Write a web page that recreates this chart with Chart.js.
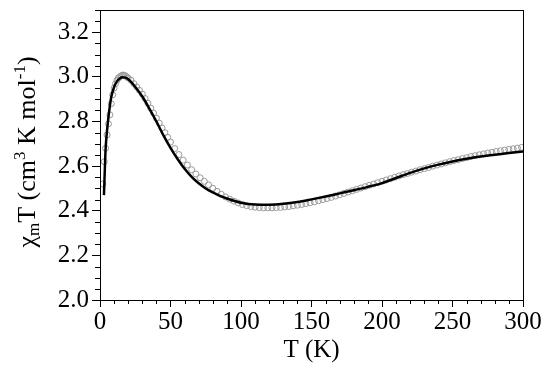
<!DOCTYPE html>
<html>
<head>
<meta charset="utf-8">
<script src="https://cdn.jsdelivr.net/npm/chart.js@4"></script>
<style>
  html, body { margin: 0; padding: 0; background: #fff; }
  #wrap { width: 550px; height: 369px; }
</style>
</head>
<body>
<div id="wrap"><canvas id="chiChart"></canvas></div>
<script>
// measured data (open circles)
const tempData = [2, 3, 4, 5, 6, 7, 8, 9, 10, 11, 12, 13, 14, 15, 16, 17, 18, 19, 20, 22, 24, 26, 28, 30, 32, 34, 36, 38, 40, 42, 44, 46, 48, 50,
    53, 56, 59, 62, 65, 68, 71, 74, 77, 80, 83, 86, 89, 92, 95, 98, 101, 104, 107, 110, 113, 116, 119, 122, 125, 128, 131, 134, 137, 140,
    143, 146, 149, 152, 155, 158, 161, 164, 167, 170, 173, 176, 179, 182, 185, 188, 191, 194, 197, 200, 203, 206, 209, 212, 215, 218,
    221, 224, 227, 230, 233, 236, 239, 242, 245, 248, 251, 254, 257, 260, 263, 266, 269, 272, 275, 278, 281, 284, 287, 290, 293, 296, 299];
const chiTData = [2.52, 2.62, 2.68, 2.74, 2.79, 2.83, 2.88, 2.92, 2.95, 2.97, 2.985, 2.995, 3.0, 3.005, 3.008, 3.008, 3.005, 3.0, 2.995,
    2.985, 2.97, 2.955, 2.94, 2.923, 2.903, 2.882, 2.86, 2.838, 2.815, 2.793, 2.771, 2.75, 2.729, 2.708,
    2.679, 2.652, 2.627, 2.605, 2.584, 2.565, 2.548, 2.532, 2.516, 2.501, 2.487, 2.474, 2.462, 2.452, 2.443, 2.435, 2.428, 2.423, 2.419,
    2.416, 2.414, 2.413, 2.413, 2.413, 2.414, 2.415, 2.417, 2.419, 2.422, 2.425, 2.428, 2.432, 2.436, 2.44, 2.445, 2.45, 2.455, 2.46,
    2.466, 2.472, 2.478, 2.484, 2.49, 2.496, 2.502, 2.508, 2.514, 2.52, 2.526, 2.532, 2.538, 2.544, 2.55, 2.556, 2.562, 2.567, 2.573,
    2.578, 2.584, 2.589, 2.594, 2.6, 2.605, 2.61, 2.615, 2.62, 2.625, 2.629, 2.634, 2.638, 2.643, 2.647, 2.651, 2.655, 2.659, 2.662,
    2.666, 2.669, 2.672, 2.675, 2.678, 2.681, 2.684];

// fitted curve (solid line)
const tempFit = [2.8, 3.5, 4, 5, 6, 7, 8, 10, 12, 14, 16, 18, 20, 22, 25, 30, 35, 40, 45, 50, 55, 60, 65, 70, 75, 80, 85, 90, 100,
    110, 120, 130, 140, 150, 160, 170, 180, 190, 200, 210, 220, 230, 240, 250, 260, 270, 280, 290, 300];
const chiTFit = [2.47, 2.6, 2.68, 2.76, 2.82, 2.87, 2.91, 2.955, 2.98, 2.993, 2.998, 2.997, 2.99, 2.978, 2.955, 2.912, 2.858, 2.8,
    2.738, 2.682, 2.632, 2.588, 2.552, 2.523, 2.5, 2.482, 2.467, 2.455, 2.436, 2.428, 2.427, 2.431, 2.439, 2.451, 2.464, 2.478, 2.492,
    2.507, 2.524, 2.547, 2.57, 2.59, 2.607, 2.621, 2.633, 2.643, 2.651, 2.659, 2.666];

const xTicks = [0, 50, 100, 150, 200, 250, 300];
const yTicks = [2.0, 2.2, 2.4, 2.6, 2.8, 3.0, 3.2];

const serif = '"Liberation Serif", "Times New Roman", serif';

// frame, minor ticks and the y title with sub/superscripts
const decor = {
    id: 'decor',
    afterDraw(chart) {
        const c = chart.ctx;
        const a = chart.chartArea;
        const xs = chart.scales.x, ys = chart.scales.y;
        c.save();
        c.strokeStyle = '#000';
        c.lineWidth = 1;
        c.strokeRect(a.left + 0.5, a.top + 0.5, a.right - a.left, a.bottom - a.top);

        c.beginPath();
        for (let t = 10; t < 300; t += 10) {
            if (t % 50 === 0) continue;
            const px = Math.round(xs.getPixelForValue(t)) + 0.5;
            c.moveTo(px, a.bottom);
            c.lineTo(px, a.bottom + 4);
        }
        for (let k = 1; k <= 26; k++) {
            if (k % 4 === 0) continue;
            const py = Math.round(ys.getPixelForValue(2 + k * 0.05)) + 0.5;
            c.moveTo(a.left, py);
            c.lineTo(a.left - 5, py);
        }
        c.stroke();

        // y axis title
        const parts = [
            ['\u03c7', 0], ['m', 1], ['T (cm', 0], ['3', 2], [' K mol', 0], ['-1', 2], [')', 0]
        ];
        const big = '26px ' + serif, small = '17px ' + serif;
        let total = 0;
        parts.forEach(p => { c.font = p[1] ? small : big; total += c.measureText(p[0]).width; });
        c.translate(28, (a.top + a.bottom) / 2 - 3);
        c.rotate(-Math.PI / 2);
        c.fillStyle = '#000';
        c.textBaseline = 'middle';
        let x = -total / 2;
        parts.forEach(p => {
            c.font = p[1] ? small : big;
            const dy = p[1] === 1 ? 7 : (p[1] === 2 ? -7 : 0);
            c.fillText(p[0], x, dy);
            x += c.measureText(p[0]).width;
        });
        c.restore();
    }
};

const ctx = document.getElementById('chiChart').getContext('2d');
new Chart(ctx, {
    type: 'scatter',
    data: {
        datasets: [{
            label: 'fit',
            data: tempFit.map((t, i) => ({ x: t, y: chiTFit[i] })),
            showLine: true,
            borderColor: '#000',
            borderWidth: 2.5,
            pointRadius: 0,
            cubicInterpolationMode: 'monotone'
        }, {
            label: 'data',
            data: tempData.map((t, i) => ({ x: t, y: chiTData[i] })),
            showLine: false,
            pointRadius: 3,
            pointBorderWidth: 1,
            pointBorderColor: '#999',
            pointBackgroundColor: 'rgba(255,255,255,0)'
        }]
    },
    options: {
        responsive: true,
        maintainAspectRatio: false,
        animation: false,
        layout: { padding: { top: 10, right: 27, bottom: 4, left: 0 } },
        plugins: { legend: { display: false }, tooltip: { enabled: false } },
        scales: {
            x: {
                type: 'linear',
                min: 0,
                max: 300,
                afterBuildTicks: s => { s.ticks = xTicks.map(v => ({ value: v })); },
                ticks: { color: '#000', font: { family: serif, size: 25 }, padding: 0, maxRotation: 0 },
                grid: { drawOnChartArea: false, drawTicks: true, tickLength: 7, color: '#000' },
                border: { display: true, color: '#000', width: 1 },
                title: { display: true, text: 'T (K)', color: '#000', font: { family: serif, size: 25 }, padding: { top: -2, bottom: 0 } }
            },
            y: {
                type: 'linear',
                min: 2.0,
                max: 3.3,
                afterBuildTicks: s => { s.ticks = yTicks.map(v => ({ value: v })); },
                afterFit: s => { s.width = 100; s.paddingTop = 0; s.paddingBottom = 0; },
                ticks: { color: '#000', font: { family: serif, size: 25 }, padding: 3, callback: v => v.toFixed(1) },
                grid: { drawOnChartArea: false, drawTicks: true, tickLength: 8, color: '#000' },
                border: { display: true, color: '#000', width: 1 }
            }
        }
    },
    plugins: [decor]
});
</script>
</body>
</html>
